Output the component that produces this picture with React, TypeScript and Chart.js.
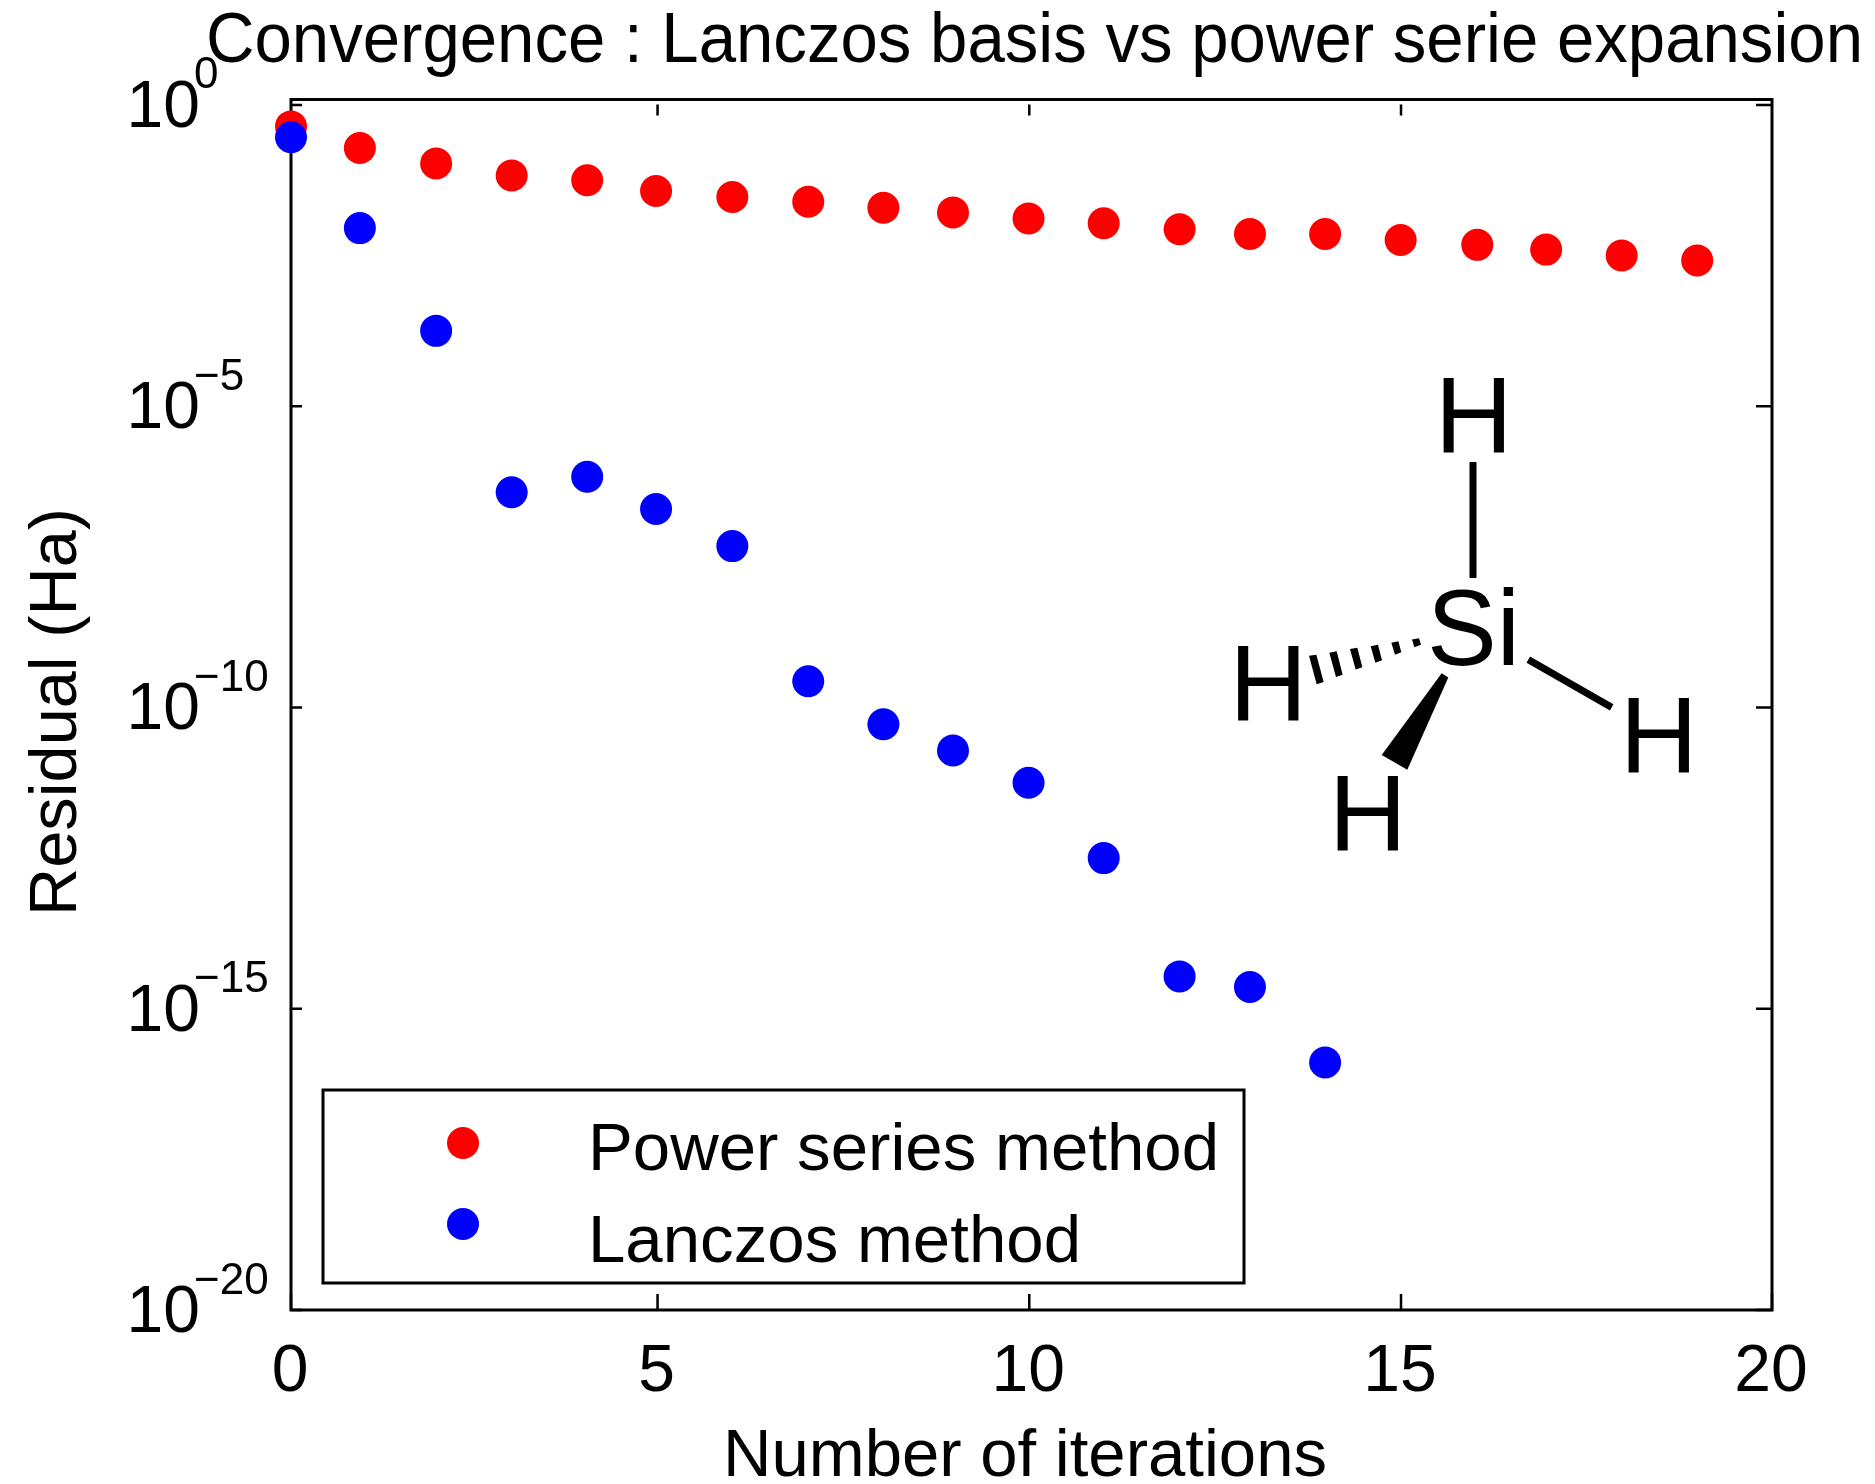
import React, { useEffect, useRef } from "react";
import { Chart, registerables } from "chart.js";

Chart.register(...registerables);

const FONT = '"Liberation Sans", Arial, sans-serif';

const TITLE = "Convergence : Lanczos basis vs power serie expansion";
const X_LABEL = "Number of iterations";
const Y_LABEL = "Residual (Ha)";

const iterations = [0, 0.93, 1.96, 2.98, 4.0, 4.93, 5.96, 6.985, 8.0, 8.94, 9.96, 10.975, 12.0, 12.95, 13.965, 14.985, 16.02, 16.95, 17.97, 18.99];

const powerExponents = [-0.357, -0.714, -0.972, -1.171, -1.25, -1.429, -1.528, -1.607, -1.707, -1.786, -1.885, -1.964, -2.064, -2.143, -2.143, -2.242, -2.322, -2.401, -2.5, -2.58];
const lanczosExponents = [-0.536, -2.044, -3.75, -6.429, -6.171, -6.707, -7.322, -9.564, -10.278, -10.714, -11.25, -12.5, -14.464, -14.64, -15.893];

const xTicks = [0, 4.95, 9.97, 14.99, 20];
const yTickExponents = [0, -5, -10, -15, -20];

const toPoints = (exps: number[]) => exps.map((e, i) => ({ x: iterations[i], y: Math.pow(10, e) }));

function fitText(ctx: CanvasRenderingContext2D, text: string, x: number, base: number, width: number, size: number) {
  ctx.save();
  ctx.font = `${size}px ${FONT}`;
  ctx.textAlign = "left";
  ctx.textBaseline = "alphabetic";
  ctx.fillStyle = "#000";
  const w = ctx.measureText(text).width;
  ctx.translate(x, base);
  ctx.scale(width / w, 1);
  ctx.fillText(text, 0, 0);
  ctx.restore();
}

function poly(ctx: CanvasRenderingContext2D, pts: number[][]) {
  ctx.beginPath();
  pts.forEach((p, i) => (i ? ctx.lineTo(p[0], p[1]) : ctx.moveTo(p[0], p[1])));
  ctx.closePath();
  ctx.fill();
}

const frame = {
  id: "frame",
  beforeDatasetsDraw(chart: any) {
    const { ctx, chartArea: a, scales } = chart;
    ctx.save();
    ctx.strokeStyle = "#000";
    ctx.lineWidth = 2.5;
    for (const v of xTicks) {
      const x = scales.x.getPixelForValue(v);
      ctx.beginPath();
      if (v !== 0 && v !== 20) {
        ctx.moveTo(x, a.top + 5);
        ctx.lineTo(x, a.top + 16);
      }
      ctx.moveTo(x, a.bottom);
      ctx.lineTo(x, a.bottom - 16);
      ctx.stroke();
    }
    for (const e of yTickExponents) {
      const y = scales.y.getPixelForValue(Math.pow(10, e));
      ctx.beginPath();
      ctx.moveTo(a.left, y);
      ctx.lineTo(a.left + 11, y);
      ctx.moveTo(a.right, y);
      ctx.lineTo(a.right - 16, y);
      ctx.stroke();
    }
    ctx.lineWidth = 3;
    ctx.strokeRect(a.left, a.top, a.right - a.left, a.bottom - a.top);
    ctx.restore();
  },
  afterDraw(chart: any) {
    const { ctx, scales } = chart;
    ctx.save();
    // title and axis names
    fitText(ctx, TITLE, 206, 62, 1657, 70);
    fitText(ctx, X_LABEL, 723, 1476, 604, 66);
    ctx.save();
    ctx.translate(76, 916);
    ctx.rotate(-Math.PI / 2);
    fitText(ctx, Y_LABEL, 0, 0, 408, 66);
    ctx.restore();

    // y tick labels with exponents
    for (const e of yTickExponents) {
      const y = scales.y.getPixelForValue(Math.pow(10, e));
      ctx.fillStyle = "#000";
      ctx.textAlign = "left";
      ctx.textBaseline = "alphabetic";
      ctx.font = `66px ${FONT}`;
      ctx.fillText("10", 126.5, y + 22);
      ctx.font = `44px ${FONT}`;
      ctx.fillText(e === 0 ? "0" : "\u2212" + Math.abs(e), 194, y - 16.5);
    }

    // legend
    ctx.lineWidth = 3;
    ctx.strokeStyle = "#000";
    ctx.fillStyle = "#fff";
    ctx.fillRect(323, 1090, 921, 193);
    ctx.strokeRect(323, 1090, 921, 193);
    const legendRows = [
      { y: 1143, base: 1170, width: 631 },
      { y: 1224, base: 1262, width: 493 },
    ];
    chart.data.datasets.forEach((ds: any, i: number) => {
      const row = legendRows[i];
      ctx.beginPath();
      ctx.fillStyle = ds.backgroundColor;
      ctx.arc(463, row.y, 16, 0, Math.PI * 2);
      ctx.fill();
      fitText(ctx, ds.label, 588, row.base, row.width, 66);
    });

    // silane molecule sketch
    ctx.fillStyle = "#000";
    ctx.strokeStyle = "#000";
    ctx.lineWidth = 7;
    ctx.textAlign = "left";
    ctx.textBaseline = "alphabetic";
    ctx.font = `108px ${FONT}`;
    const hLeft = ctx.measureText("H").actualBoundingBoxLeft;
    [[1442.7, 452], [1237.3, 720], [1627.7, 771.8], [1336.7, 850]].forEach(([x, b]) => ctx.fillText("H", x + hLeft, b));
    const siLeft = ctx.measureText("Si").actualBoundingBoxLeft;
    fitText(ctx, "Si", 1431 + siLeft, 665, 93, 108);
    ctx.beginPath();
    ctx.moveTo(1473, 462);
    ctx.lineTo(1473, 578);
    ctx.moveTo(1528.3, 659.6);
    ctx.lineTo(1611.7, 707.4);
    ctx.stroke();
    poly(ctx, [[1441.7, 673.3], [1448.3, 677.5], [1407.3, 769.8], [1381.7, 755]]);
    const hashes = [
      [[327, 917], [349, 914], [371, 993], [350, 1000]],
      [[388, 908], [410, 904], [428, 972], [408, 979]],
      [[450, 897], [472, 894], [487, 950], [467, 957]],
      [[512, 889], [534, 885], [546, 930], [526, 937]],
      [[574, 879], [595, 875], [604, 907], [585, 914]],
      [[636, 870], [657, 866], [663, 885], [643, 892]],
    ];
    hashes.forEach((h) => poly(ctx, h.map(([x, y]) => [1200 + x / 3, 340 + y / 2.904])));
    ctx.restore();
  },
};

export default function App() {
  const ref = useRef<HTMLCanvasElement>(null);
  useEffect(() => {
    const chart = new Chart(ref.current!, {
      type: "scatter",
      data: {
        datasets: [
          { label: "Power series method", data: toPoints(powerExponents), backgroundColor: "#ff0000", pointRadius: 16, pointBorderWidth: 0, clip: false, order: 2 },
          { label: "Lanczos method", data: toPoints(lanczosExponents), backgroundColor: "#0000ff", pointRadius: 16, pointBorderWidth: 0, clip: false, order: 1 },
        ],
      },
      plugins: [frame],
      options: {
        animation: false,
        responsive: false,
        layout: { padding: { left: 0, top: 99.5, right: 103, bottom: 0 } },
        plugins: { legend: { display: false }, title: { display: false }, tooltip: { enabled: false } },
        scales: {
          x: {
            type: "linear",
            min: 0,
            max: 20,
            grid: { display: false, drawTicks: false },
            border: { display: false },
            afterFit: (s: any) => { s.height = 174; },
            afterBuildTicks: (s: any) => { s.ticks = xTicks.map((value) => ({ value })); },
            ticks: { color: "#000", font: { family: FONT, size: 66 }, padding: 23, labelOffset: -1, maxRotation: 0, autoSkip: false, callback: (v: any) => String(Math.round(v)) },
          },
          y: {
            type: "logarithmic",
            min: Math.pow(10, -20),
            max: Math.pow(10, 0.09),
            grid: { display: false, drawTicks: false },
            border: { display: false },
            afterFit: (s: any) => { s.width = 291; },
            ticks: { display: false },
          },
        },
      } as any,
    });
    return () => chart.destroy();
  }, []);
  return (
    <div style={{ position: "absolute", left: 0, top: 0, width: 1875, height: 1484, background: "#fff" }}>
      <canvas ref={ref} width={1875} height={1484} style={{ display: "block" }} />
    </div>
  );
}
